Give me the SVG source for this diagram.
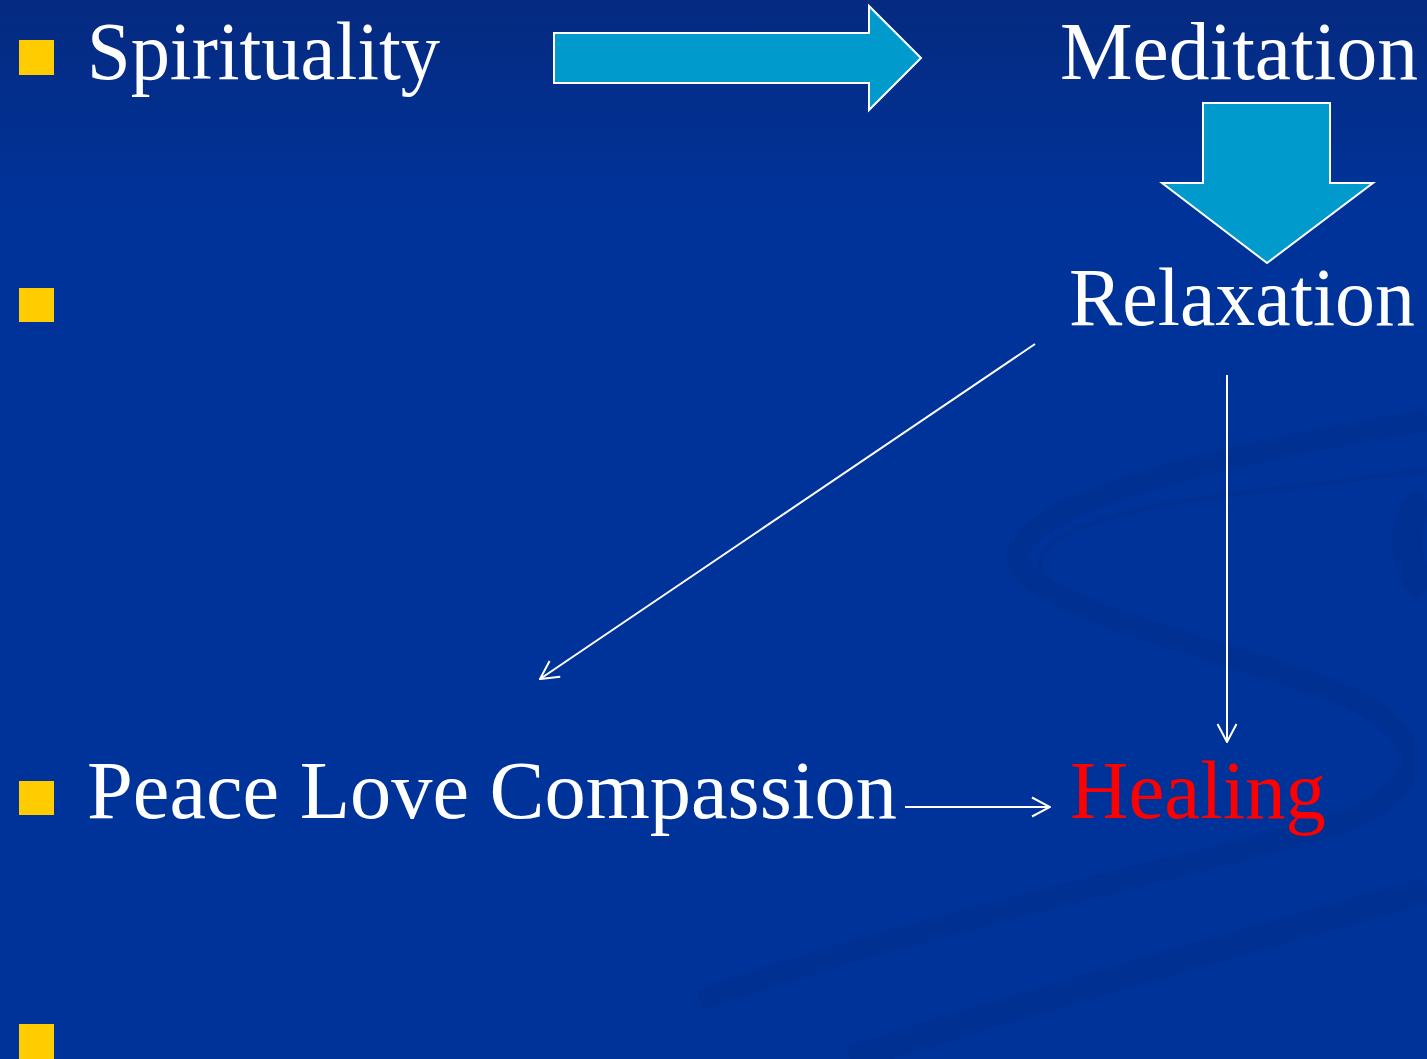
<svg xmlns="http://www.w3.org/2000/svg" width="1427" height="1059" viewBox="0 0 1427 1059">
  <style>
    .t { font-family: "Liberation Serif", "Times New Roman", serif; font-size: 82px; fill: #ffffff; }
    .red { fill: #ff0000; }
    .bullet { fill: #ffcc00; }
    .block { fill: #009bcc; stroke: #ffffff; stroke-width: 2; stroke-linejoin: miter; }
    .conn { stroke: #ffffff; stroke-width: 2; fill: none; }
    .swirl { fill: none; stroke: #002f8e; }
  </style>
  <defs>
    <linearGradient id="bg" x1="0" y1="0" x2="0" y2="1">
      <stop offset="0" stop-color="#052a80"/>
      <stop offset="0.2" stop-color="#00339a"/>
      <stop offset="1" stop-color="#00339a"/>
    </linearGradient>
    <marker id="open" viewBox="0 0 20 22" refX="19" refY="11" markerWidth="20" markerHeight="22" markerUnits="userSpaceOnUse" orient="auto">
      <path d="M1,1.5 L19,11 L1,20.5" fill="none" stroke="#ffffff" stroke-width="2"/>
    </marker>
  </defs>
  <rect x="0" y="0" width="1427" height="1059" fill="url(#bg)"/>
  <g id="swirl" opacity="0.6">
    <path class="swirl" stroke-width="22" d="M1427,420 C1250,450 1060,490 1020,545 C990,600 1200,640 1330,690 C1440,730 1440,800 1300,835 C1150,875 900,930 700,1000"/>
    <path class="swirl" stroke-width="5" d="M1427,470 C1300,490 1060,500 1040,560 C1030,620 1250,660 1380,720"/>
    <path class="swirl" stroke-width="26" d="M1427,890 C1250,940 1000,1010 850,1059"/>
    <path class="swirl" stroke-width="30" d="M1427,500 C1400,520 1400,560 1427,590"/>
  </g>
  <g id="bullets">
    <rect class="bullet" x="19" y="40" width="35" height="35"/>
    <rect class="bullet" x="19" y="288" width="35" height="34"/>
    <rect class="bullet" x="19" y="781" width="35" height="34"/>
    <rect class="bullet" x="19" y="1024" width="35" height="35"/>
  </g>
  <g id="spirituality"><text class="t" x="87" y="79" textLength="353" lengthAdjust="spacingAndGlyphs">Spirituality</text></g>
  <g id="meditation"><text class="t" x="1060" y="79" textLength="358" lengthAdjust="spacingAndGlyphs">Meditation</text></g>
  <g id="relaxation"><text class="t" x="1069" y="325" textLength="346" lengthAdjust="spacingAndGlyphs">Relaxation</text></g>
  <g id="peace"><text class="t" x="87" y="818" textLength="810" lengthAdjust="spacingAndGlyphs">Peace Love Compassion</text></g>
  <g id="healing"><text class="t red" x="1070" y="818" textLength="256" lengthAdjust="spacingAndGlyphs">Healing</text></g>
  <g id="connectors">
    <path class="block" d="M554,33 L869,33 L869,6 L921,58 L869,110 L869,83 L554,83 Z"/>
    <path class="block" d="M1203,103 L1330,103 L1330,183 L1373,183 L1267,263 L1162,183 L1203,183 Z"/>
    <line class="conn" x1="1035" y1="344" x2="540" y2="679" marker-end="url(#open)"/>
    <line class="conn" x1="1227" y1="375" x2="1227" y2="742" marker-end="url(#open)"/>
    <line class="conn" x1="905" y1="807" x2="1050" y2="807" marker-end="url(#open)"/>
  </g>
</svg>
